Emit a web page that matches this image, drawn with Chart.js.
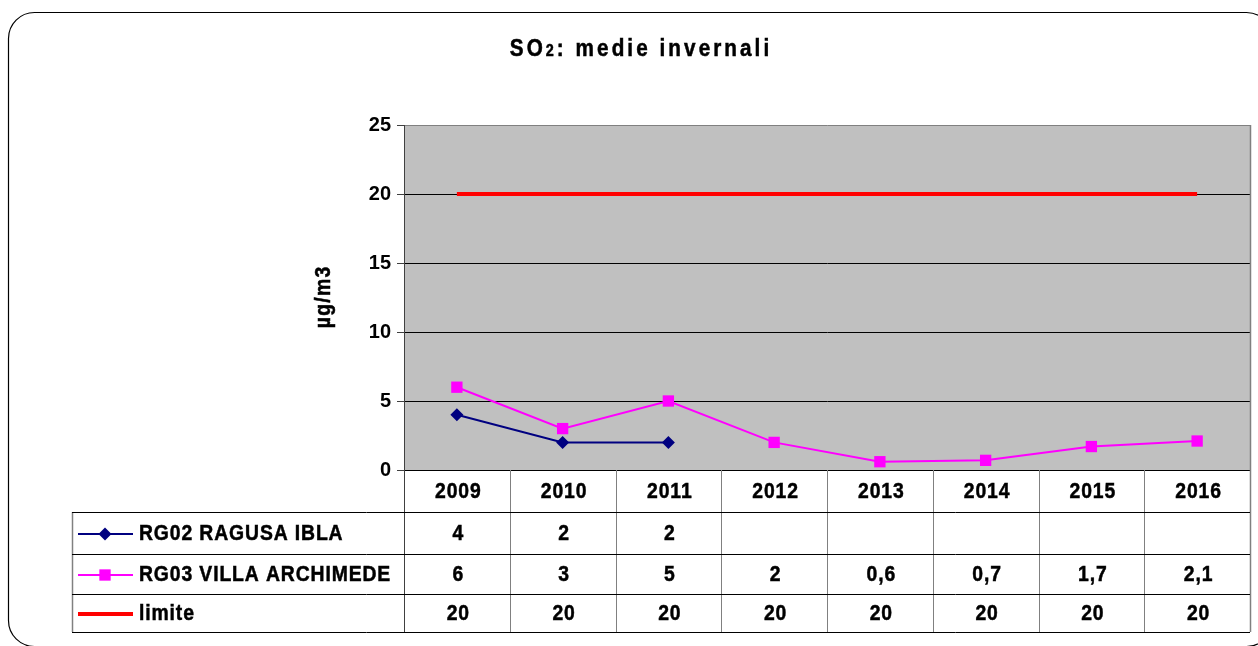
<!DOCTYPE html>
<html>
<head>
<meta charset="utf-8">
<script src="https://cdn.jsdelivr.net/npm/chart.js@4/dist/chart.umd.min.js"></script>
<style>
  html, body { margin: 0; padding: 0; background: #ffffff; }
  #wrap { width: 1258px; height: 646px; }
</style>
</head>
<body>
<div id="wrap"><canvas id="c" width="1258" height="646"></canvas></div>
<script>
// Winter averages of SO2 (µg/m3) per station
const years = ['2009', '2010', '2011', '2012', '2013', '2014', '2015', '2016'];
const ragusaIbla = [4, 2, 2, null, null, null, null, null];
const villaArchimede = [6, 3, 5, 2, 0.6, 0.7, 1.7, 2.1];
const limite = [20, 20, 20, 20, 20, 20, 20, 20];
const yTickValues = [0, 5, 10, 15, 20, 25];

const FONT = "'Liberation Sans', Arial, sans-serif";
const fmt = v => (v === null || v === undefined) ? '' : String(v).replace('.', ',');

const seriesRows = [
  { label: 'RG02 RAGUSA IBLA', values: ragusaIbla, color: '#000080', style: 'rectRot', radius: 6.5, width: 2 },
  { label: 'RG03 VILLA ARCHIMEDE', values: villaArchimede, color: '#FF00FF', style: 'rect', radius: 8, width: 2 },
  { label: 'limite', values: limite, color: '#FF0000', style: false, radius: 0, width: 4 }
];

// geometry of the data table under the plot
const TABLE = { left: 72, headerBottom: 512, rowBottoms: [554, 594, 632] };
const CELL = { size: 22, sx: 0.88, spacing: 1 };

// bold text, slightly condensed horizontally, with extra tracking
function drawText(ctx, text, x, y, size, sx, spacing, align) {
  ctx.save();
  ctx.font = 'bold ' + size + 'px ' + FONT;
  ctx.letterSpacing = spacing + 'px';
  ctx.textAlign = 'left';
  const w = (ctx.measureText(text).width - spacing) * sx;
  const left = align === 'center' ? x - w / 2 : x;
  ctx.translate(left, y);
  ctx.scale(sx, 1);
  ctx.fillText(text, 0, 0);
  ctx.lineWidth = 0.5;
  ctx.strokeStyle = ctx.fillStyle;
  ctx.strokeText(text, 0, 0);
  ctx.restore();
  return w;
}

const frame = {
  id: 'frame',
  beforeDraw(chart) {
    const ctx = chart.ctx;
    const a = chart.chartArea;
    ctx.save();
    ctx.fillStyle = '#ffffff';
    ctx.fillRect(0, 0, chart.width, chart.height);
    // rounded outer border
    ctx.beginPath();
    ctx.roundRect(8.5, 12.5, 1264, 634, 26);
    ctx.strokeStyle = '#000000';
    ctx.lineWidth = 1.2;
    ctx.stroke();
    // plot background
    ctx.fillStyle = '#C0C0C0';
    ctx.fillRect(a.left, a.top, a.right - a.left, a.bottom - a.top);
    ctx.restore();
  },
  afterDraw(chart) {
    const ctx = chart.ctx;
    const a = chart.chartArea;
    const xs = chart.scales.x;
    const colW = (a.right - a.left) / years.length;
    const bottom = TABLE.rowBottoms[TABLE.rowBottoms.length - 1];
    ctx.save();
    ctx.fillStyle = '#000';
    ctx.textBaseline = 'alphabetic';

    // title, with subscript-sized "2"
    const TS = 0.9, TSP = 3.4;
    const parts = [['SO', 23], ['2', 16], [': medie invernali', 23]];
    let total = 0;
    parts.forEach(p => {
      ctx.font = 'bold ' + p[1] + 'px ' + FONT;
      ctx.letterSpacing = TSP + 'px';
      total += ctx.measureText(p[0]).width * TS;
    });
    let tx = 641 - total / 2;
    parts.forEach(p => {
      drawText(ctx, p[0], tx, 56, p[1], TS, TSP, 'left');
      ctx.font = 'bold ' + p[1] + 'px ' + FONT;
      ctx.letterSpacing = TSP + 'px';
      tx += ctx.measureText(p[0]).width * TS;
    });

    // y-axis title
    ctx.save();
    ctx.translate(324, (a.top + a.bottom) / 2);
    ctx.rotate(-Math.PI / 2);
    ctx.textBaseline = 'middle';
    drawText(ctx, 'µg/m3', 0, 0, 22, 0.88, 1.5, 'center');
    ctx.restore();

    // right plot border
    ctx.strokeStyle = '#808080';
    ctx.lineWidth = 1.5;
    ctx.beginPath();
    ctx.moveTo(a.right + 0.5, a.top);
    ctx.lineTo(a.right + 0.5, bottom);
    ctx.stroke();

    // table grid: vertical lines
    ctx.lineWidth = 1;
    for (let i = 1; i <= years.length; i++) {
      const x = Math.round(a.left + i * colW) + 0.5;
      ctx.strokeStyle = '#808080';
      ctx.beginPath();
      ctx.moveTo(x, a.bottom);
      ctx.lineTo(x, bottom);
      ctx.stroke();
    }
    ctx.strokeStyle = '#404040';
    ctx.beginPath();
    ctx.moveTo(Math.round(a.left) + 0.5, a.bottom);
    ctx.lineTo(Math.round(a.left) + 0.5, bottom);
    ctx.stroke();
    ctx.strokeStyle = '#808080';
    ctx.lineWidth = 1.5;
    ctx.beginPath();
    ctx.moveTo(TABLE.left + 0.5, TABLE.headerBottom);
    ctx.lineTo(TABLE.left + 0.5, bottom);
    ctx.stroke();

    // horizontal lines
    ctx.lineWidth = 1;
    ctx.strokeStyle = '#000';
    [TABLE.headerBottom].concat(TABLE.rowBottoms).forEach(y => {
      ctx.beginPath();
      ctx.moveTo(TABLE.left, y + 0.5);
      ctx.lineTo(a.right, y + 0.5);
      ctx.stroke();
    });

    // header: years
    ctx.textBaseline = 'middle';
    ctx.fillStyle = '#000';
    const headerMid = (a.bottom + TABLE.headerBottom) / 2 + 1;
    years.forEach((yr, i) => drawText(ctx, yr, xs.getPixelForValue(i) + 1, headerMid, CELL.size, CELL.sx, CELL.spacing, 'center'));

    // series rows
    let top = TABLE.headerBottom;
    seriesRows.forEach((row, r) => {
      const bot = TABLE.rowBottoms[r];
      const mid = (top + bot) / 2 + 1;
      // legend key
      ctx.strokeStyle = row.color;
      ctx.lineWidth = row.width;
      ctx.beginPath();
      ctx.moveTo(78, mid);
      ctx.lineTo(133, mid);
      ctx.stroke();
      if (row.style) {
        ctx.fillStyle = row.color;
        Chart.helpers.drawPoint(ctx, { pointStyle: row.style, radius: row.radius, rotation: 0, borderWidth: 0 }, 105, mid);
      }
      // label and values
      ctx.fillStyle = '#000';
      drawText(ctx, row.label, 139, mid, CELL.size, CELL.sx, CELL.spacing, 'left');
      row.values.forEach((v, i) => drawText(ctx, fmt(v), xs.getPixelForValue(i) + 1, mid, CELL.size, CELL.sx, CELL.spacing, 'center'));
      top = bot;
    });
    ctx.restore();
  }
};

new Chart(document.getElementById('c'), {
  type: 'line',
  data: {
    labels: years,
    datasets: seriesRows.map(row => ({
      label: row.label,
      data: row.values,
      borderColor: row.color,
      backgroundColor: row.color,
      borderWidth: row.width,
      pointStyle: row.style,
      pointRadius: row.radius,
      pointBorderWidth: 0,
      pointHoverRadius: row.radius,
      tension: 0,
      spanGaps: false
    }))
  },
  options: {
    responsive: false,
    animation: false,
    devicePixelRatio: 1,
    layout: { padding: { top: 125, right: 6, bottom: 0, left: 0 } },
    plugins: { legend: { display: false }, title: { display: false }, tooltip: { enabled: false } },
    scales: {
      x: {
        type: 'category',
        offset: true,
        grid: { display: false, drawTicks: false },
        border: { display: false },
        ticks: { display: false },
        afterFit: s => { s.height = 176; }
      },
      y: {
        min: 0,
        max: 25,
        afterBuildTicks: s => { s.ticks = yTickValues.map(v => ({ value: v })); },
        ticks: {
          color: '#000',
          font: { family: FONT, size: 20, weight: 'bold' },
          padding: 6
        },
        grid: {
          color: c => (c.tick && c.tick.value === 25) ? '#808080' : '#000000',
          lineWidth: 1,
          tickLength: 7,
          tickColor: '#404040'
        },
        border: { color: '#404040', width: 1 },
        afterFit: s => { s.width = 404; }
      }
    }
  },
  plugins: [frame]
});
</script>
</body>
</html>
